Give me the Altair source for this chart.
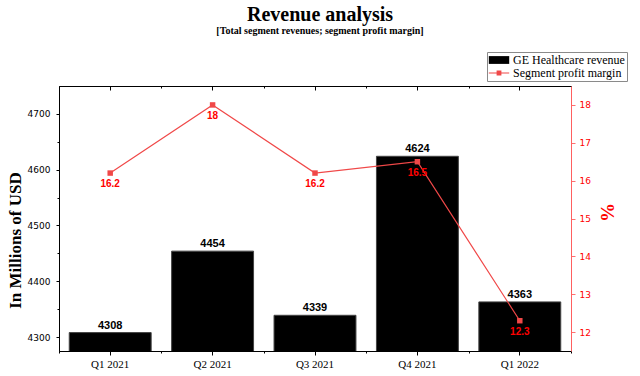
import altair as alt
import pandas as pd

quarters = ["Q1 2021", "Q2 2021", "Q3 2021", "Q4 2021", "Q1 2022"]
revenue = [4308, 4454, 4339, 4624, 4363]
margin = [16.2, 18, 16.2, 16.5, 12.3]
series_names = ["GE Healthcare revenue", "Segment profit margin"]
left_ticks = [4300, 4350, 4400, 4450, 4500, 4550, 4600, 4650, 4700]
right_ticks = [12, 12.5, 13, 13.5, 14, 14.5, 15, 15.5, 16, 16.5, 17, 17.5, 18]
left_domain = [4275, 4750]
right_domain = [11.5, 18.5]

df = pd.DataFrame({"quarter": quarters, "revenue": revenue, "margin": margin})

RED_LINE = "#f04848"
RED_TEXT = "#ff0000"
SANS = "DejaVu Sans"
SERIF = "Liberation Serif"

xscale = alt.Scale(paddingInner=0, paddingOuter=0)

legend = alt.Legend(
    title=None, orient="none", legendX=428, legendY=-34,
    labelFont=SERIF, labelFontSize=12, labelColor="black", labelOffset=8,
    symbolSize=144, symbolOffset=4, symbolStrokeWidth=0, rowPadding=1, padding=2,
    strokeColor="#8a8a8a", fillColor="white",
)

def xenc(axis):
    return alt.X("quarter:N", sort=quarters, scale=xscale, axis=axis)

ax_bottom = alt.Axis(orient="bottom", title=None, labelAngle=0, labelFont=SERIF,
                     labelFontSize=11, labelColor="black", tickSize=4, tickColor="black",
                     domainColor="black", labelPadding=3, grid=False)
ax_bottom_minor = alt.Axis(orient="bottom", title=None, labels=False, domain=False,
                           tickBand="extent", tickSize=2, tickColor="black", grid=False)
ax_top = alt.Axis(orient="top", title=None, labels=False, domain=False, offset=-4,
                  tickSize=4, tickColor="black", grid=False)
ax_top_minor = alt.Axis(orient="top", title=None, labels=False, domain=False, offset=-2,
                        tickBand="extent", tickSize=2, tickColor="black", grid=False)

ax_left = alt.Axis(
    orient="left", values=left_ticks, format="d",
    labelExpr="datum.value % 100 == 0 ? datum.label : ''",
    tickSize={"condition": {"test": "datum.value % 100 == 0", "value": 3}, "value": 2},
    tickColor="black", domainColor="black", labelColor="black",
    labelFont=SANS, labelFontSize=9, labelPadding=6, grid=False,
    title="In Millions of USD", titleFont=SERIF, titleFontSize=17, titleFontWeight="bold",
    titleColor="black", titleAngle=270, titleX=-44, titleY=154,
    titleAlign="center", titleBaseline="middle",
)
ax_right = alt.Axis(
    orient="right", values=right_ticks, format="d",
    labelExpr="datum.value % 1 == 0 ? datum.label : ''",
    tickSize={"condition": {"test": "datum.value % 1 == 0", "value": 4}, "value": 2},
    tickColor="#ff7070", domainColor="#ff6060", labelColor=RED_TEXT,
    labelFont=SANS, labelFontSize=9, labelPadding=4, grid=False,
    title="%", titleFont=SERIF, titleFontSize=19, titleFontWeight="bold",
    titleColor=RED_TEXT, titleAngle=270, titleX=36, titleY=126,
    titleAlign="center", titleBaseline="middle",
)

base = alt.Chart(df)

bars = base.mark_bar(clip=True, stroke="#444444", strokeWidth=1,
                     width=alt.RelativeBandSize(0.8)).transform_calculate(
    series="'GE Healthcare revenue'"
).encode(
    x=xenc(ax_bottom),
    y=alt.Y("revenue:Q", scale=alt.Scale(domain=left_domain, zero=False), axis=ax_left),
    color=alt.Color("series:N", scale=alt.Scale(domain=series_names, range=["black", RED_LINE]),
                    legend=legend),
)

bar_text = base.mark_text(font="Liberation Sans", fontWeight="bold", fontSize=11,
                          baseline="bottom", dy=-2, color="black").encode(
    x=xenc(ax_bottom_minor),
    y=alt.Y("revenue:Q", scale=alt.Scale(domain=left_domain, zero=False), axis=None),
    text=alt.Text("revenue:Q", format="d"),
)

legend_helper = base.mark_point(size=0, filled=True).transform_calculate(
    series="'Segment profit margin'"
).encode(
    x=xenc(None),
    y=alt.Y("revenue:Q", scale=alt.Scale(domain=left_domain, zero=False), axis=None),
    shape=alt.Shape("series:N", scale=alt.Scale(
        domain=series_names,
        range=["M-1.7,-0.65H1.7V0.65H-1.7Z",
               "M-1.7,-0.09H1.7V0.09H-1.7ZM-0.4,-0.4H0.4V0.4H-0.4Z"]),
        legend=legend),
)

line = base.mark_line(color=RED_LINE, strokeWidth=1.2).encode(
    x=xenc(ax_top),
    y=alt.Y("margin:Q", scale=alt.Scale(domain=right_domain, zero=False), axis=ax_right),
)

points = base.mark_point(shape="square", filled=True, size=30, color=RED_LINE, opacity=1).encode(
    x=xenc(ax_top_minor),
    y=alt.Y("margin:Q", scale=alt.Scale(domain=right_domain, zero=False), axis=None),
)

line_text = base.mark_text(font="Liberation Sans", fontWeight="bold", fontSize=10,
                           baseline="middle", dy=11, color=RED_TEXT).encode(
    x=xenc(None),
    y=alt.Y("margin:Q", scale=alt.Scale(domain=right_domain, zero=False), axis=None),
    text=alt.Text("margin:Q"),
)

chart = alt.layer(bars, bar_text, legend_helper, line, points, line_text).resolve_scale(
    y="independent"
).resolve_axis(
    x="independent", y="independent"
).properties(
    width=512, height=265,
    autosize="none",
    padding={"left": 59, "top": 86, "right": 69, "bottom": 25},
    background="white",
    title=alt.Title(
        "Revenue analysis",
        subtitle="[Total segment revenues; segment profit margin]",
        font=SERIF, fontSize=20, fontWeight="bold", color="black",
        subtitleFont=SERIF, subtitleFontSize=10, subtitleFontWeight="bold",
        subtitleColor="black", subtitlePadding=1,
        anchor="middle", frame="group", dx=5, offset=16,
    ),
).configure_view(stroke="black", strokeWidth=1)

chart.save("out.html", embed_options={"renderer": "svg", "actions": False})
